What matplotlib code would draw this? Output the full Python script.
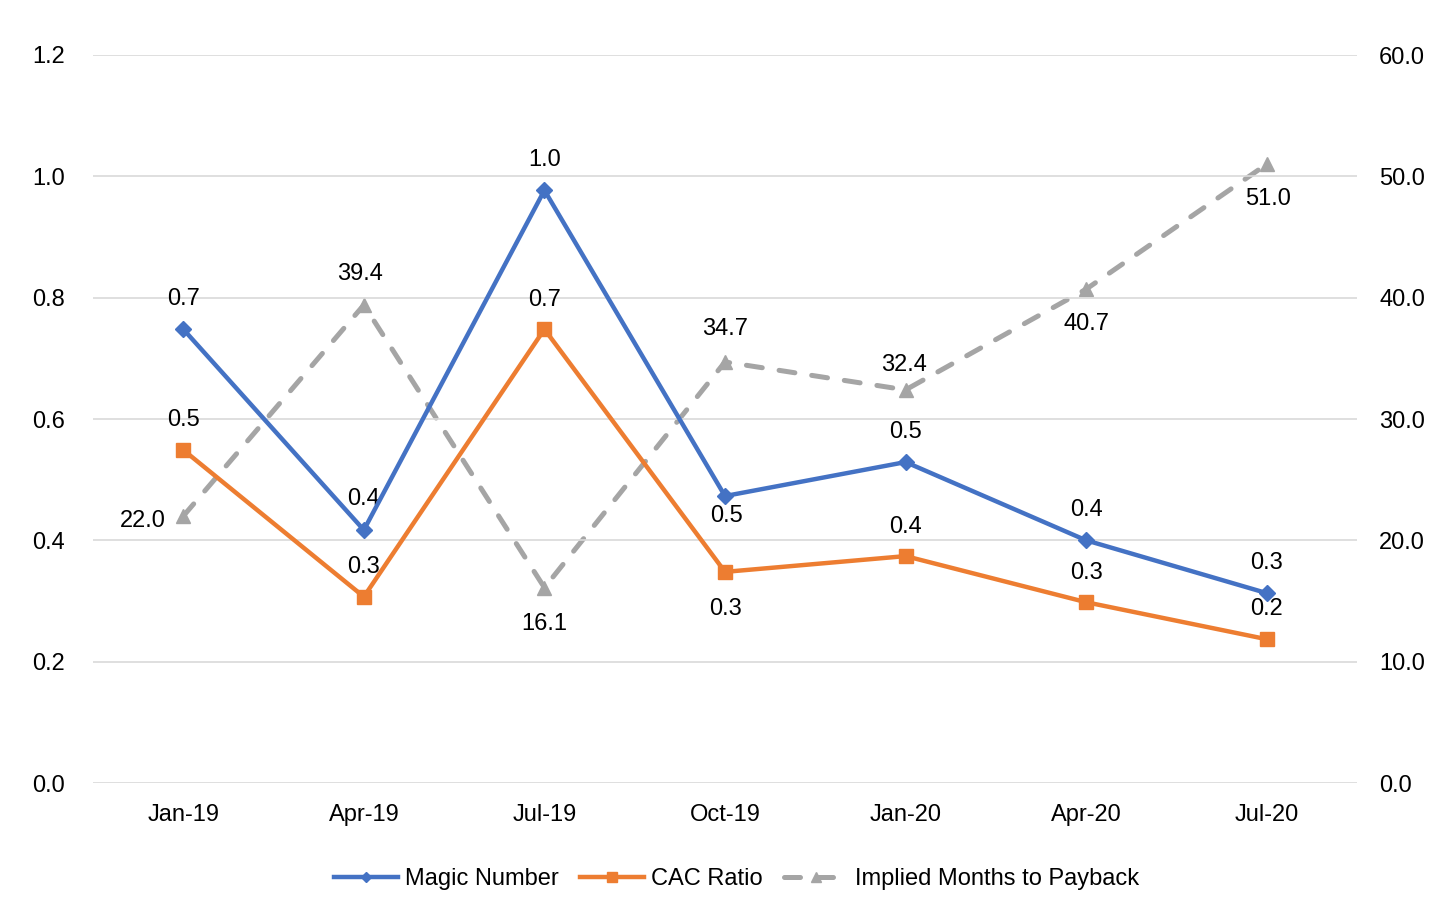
import matplotlib.pyplot as plt
from matplotlib.ticker import FormatStrFormatter

plt.rcParams['font.family'] = ['Liberation Sans', 'DejaVu Sans']

# data
quarters = ["Jan-19", "Apr-19", "Jul-19", "Oct-19", "Jan-20", "Apr-20", "Jul-20"]
magic_number = [0.748, 0.417, 0.977, 0.473, 0.529, 0.400, 0.313]
cac_ratio = [0.549, 0.307, 0.748, 0.348, 0.374, 0.298, 0.237]
months_payback = [22.0, 39.4, 16.1, 34.7, 32.4, 40.7, 51.0]

# label placement per point (dx, dy in points)
UP = 22
magic_off = [(0, UP), (0, UP), (0, UP), (1, -14.5), (0, UP), (0, UP), (0, UP)]
cac_off = [(0, 21.5), (0, 21.5), (0, 21), (0, -26.5), (0, 21), (0, 21), (0, 21.5)]
months_off = [(-29.5, -3.6), (-3, 22), (0, -26.5), (0, 23.5), (-1, 18), (0, -25), (1, -25)]

BLUE = "#4472C4"
ORANGE = "#ED7D31"
GRAY = "#A5A5A5"
FS = 17

fig = plt.figure(figsize=(14.56, 9.16), dpi=100)
ax = fig.add_axes([93 / 1456, 1 - 783 / 916, 1264 / 1456, 728 / 916])
ax2 = ax.twinx()

x = list(range(len(quarters)))

l1, = ax.plot(x, magic_number, color=BLUE, lw=3.2, marker="D", ms=8,
              label="Magic Number", zorder=4)
l2, = ax.plot(x, cac_ratio, color=ORANGE, lw=3.2, marker="s", ms=9.5,
              label="CAC Ratio", zorder=4)
l3, = ax2.plot(x, months_payback, color=GRAY, lw=3.6, marker="^", ms=10,
               ls=(0, (3.2, 3.4)), dash_capstyle="round",
               label="Implied Months to Payback", zorder=3)

for i in x:
    ax.annotate(f"{magic_number[i]:.1f}", (i, magic_number[i]), xytext=magic_off[i],
                textcoords="offset points", ha="center", va="center", fontsize=FS)
    ax.annotate(f"{cac_ratio[i]:.1f}", (i, cac_ratio[i]), xytext=cac_off[i],
                textcoords="offset points", ha="center", va="center", fontsize=FS)
    ax2.annotate(f"{months_payback[i]:.1f}", (i, months_payback[i]), xytext=months_off[i],
                 textcoords="offset points", ha="center", va="center", fontsize=FS)

ax.set_xlim(-0.5, len(quarters) - 0.5)
ax.set_ylim(0, 1.2)
ax2.set_ylim(0, 60)
ax.set_yticks([0, 0.2, 0.4, 0.6, 0.8, 1.0, 1.2])
ax2.set_yticks([0, 10, 20, 30, 40, 50, 60])
ax.yaxis.set_major_formatter(FormatStrFormatter("%.1f"))
ax2.yaxis.set_major_formatter(FormatStrFormatter("%.1f"))
ax.set_xticks(x)
ax.set_xticklabels(quarters)

ax.grid(axis="y", color="#D9D9D9", lw=1.2)
ax.set_axisbelow(True)
for a in (ax, ax2):
    for s in a.spines.values():
        s.set_visible(False)
    a.tick_params(length=0, labelsize=FS)
ax.tick_params(axis="y", pad=20)
ax2.tick_params(axis="y", pad=16)
ax.tick_params(axis="x", pad=15)

ax.set_zorder(ax2.get_zorder() + 1)
ax.patch.set_visible(False)

fig.legend([l1, l2, l3], [l.get_label() for l in (l1, l2, l3)],
           loc="center", bbox_to_anchor=(0.506, 1 - 879 / 916), ncol=3,
           frameon=False, fontsize=FS, handlelength=2.7, columnspacing=0.9,
           handletextpad=0.3, markerscale=0.7)

fig.savefig("out.png", dpi=100)
